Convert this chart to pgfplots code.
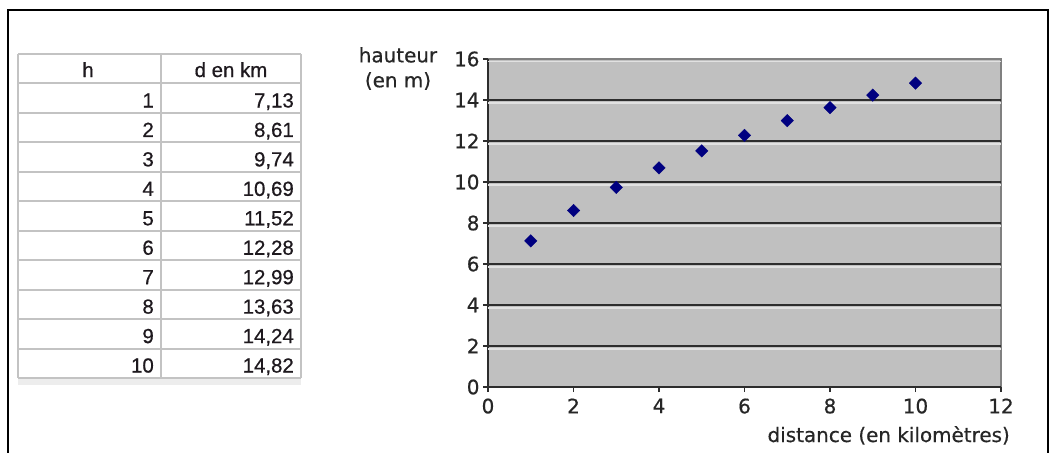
\documentclass[border=0pt]{standalone}
\usepackage{fontspec}
\setmainfont{DejaVu Sans}[FakeBold=0.6]
\newfontfamily\arialfont{Liberation Sans}[FakeBold=0.6]
\usepackage{pgfplots}
\pgfplotsset{compat=1.18}
\usepackage{pgfplotstable}

\definecolor{plotbg}{RGB}{192,192,192}
\definecolor{gridc}{RGB}{45,45,45}
\definecolor{hilite}{RGB}{225,225,225}
\definecolor{navyc}{RGB}{0,0,128}
\definecolor{tabline}{RGB}{195,195,195}
\definecolor{bordergray}{RGB}{128,128,128}
\definecolor{tabtext}{RGB}{30,25,30}

\pgfplotstableread{
h d
1 7.13
2 8.61
3 9.74
4 10.69
5 11.52
6 12.28
7 12.99
8 13.63
9 14.24
10 14.82
}\datatable

\begin{document}
\begin{tikzpicture}
% outer frame
\draw[line width=2.5bp] (8bp,-470bp) -- (8bp,-10bp) -- (1048bp,-10bp) -- (1048bp,-470bp);

% ---- table ----
\fill[black!7] (18bp,-378bp) rectangle (301bp,-385bp);
\foreach \k in {0,...,11}{
  \draw[tabline, line width=2bp] (18bp,{-(54+\k*29.45)*1bp}) -- (301bp,{-(54+\k*29.45)*1bp});
}
\foreach \xx in {18,161,301}{
  \draw[tabline, line width=2bp] (\xx bp,-54bp) -- (\xx bp,-378bp);
}
\node[anchor=base, inner sep=0, text=tabtext, font=\arialfont\fontsize{20.5}{24}\selectfont] at (88bp,-77bp) {h};
\node[anchor=base, inner sep=0, text=tabtext, font=\arialfont\fontsize{20.5}{24}\selectfont] at (231bp,-77bp) {d en km};
\foreach \i in {0,...,9}{
  \pgfplotstablegetelem{\i}{h}\of{\datatable}\let\hval\pgfplotsretval
  \pgfplotstablegetelem{\i}{d}\of{\datatable}\let\dval\pgfplotsretval
  \node[anchor=base east, inner sep=0, text=tabtext, font=\arialfont\fontsize{20.5}{24}\selectfont]
    at (154bp,{-(83+\i*29.45+24.5)*1bp}) {\pgfmathprintnumber[int detect, assume math mode=true]{\hval}};
  \node[anchor=base east, inner sep=0, text=tabtext, font=\arialfont\fontsize{20.5}{24}\selectfont]
    at (294bp,{-(83+\i*29.45+24.5)*1bp}) {\pgfmathprintnumber[fixed, fixed zerofill, precision=2, use comma, assume math mode=true]{\dval}};
}

% ---- chart ----
\begin{axis}[
  at={(488bp,-387bp)}, anchor=south west,
  scale only axis, width=513bp, height=328bp,
  xmin=0, xmax=12, ymin=0, ymax=16,
  xtick={0,2,...,12}, ytick={0,2,...,16},
  axis lines*=left,
  axis line style={gridc, line width=1.6bp},
  axis background/.style={fill=plotbg, draw=bordergray, line width=2bp},
  tick align=outside,
  major tick length=5bp,
  tick style={gridc, line width=1.5bp},
  tick label style={font=\fontsize{20}{24}\selectfont, text=black!85},
  xticklabel style={yshift=-3bp},
  /pgf/number format/assume math mode=true,
  xlabel={distance (en kilomètres)},
  xlabel style={at={(rel axis cs:1,0)}, anchor=base east, inner sep=0,
                xshift=9bp, yshift=-55bp, font=\fontsize{20}{25}\selectfont, text=black!85},
  ylabel={hauteur\\(en m)},
  ylabel style={rotate=-90, at={(rel axis cs:0,1)}, anchor=north, align=center, inner sep=0,
                xshift=-90bp, yshift=12bp, font=\fontsize{20}{25}\selectfont, text=black!85},
  clip=false,
]
\draw[hilite, line width=1.5bp] ([yshift=-2.5bp]axis cs:0,16) -- ([yshift=-2.5bp]axis cs:12,16);
\pgfplotsinvokeforeach{2,4,...,14}{
  \draw[hilite, line width=1.5bp] ([yshift=-2.8bp]axis cs:0,#1) -- ([yshift=-2.8bp]axis cs:12,#1);
  \draw[gridc, line width=2.6bp] (axis cs:0,#1) -- (axis cs:12,#1);
}
\addplot[only marks, mark=square*, mark size=4.4bp,
  mark options={rotate=45, fill=navyc, draw=navyc}] table[x=h, y=d] {\datatable};
\end{axis}

\pgfresetboundingbox
\path[use as bounding box] (0,0) rectangle (1058bp,-453bp);
\end{tikzpicture}
\end{document}
